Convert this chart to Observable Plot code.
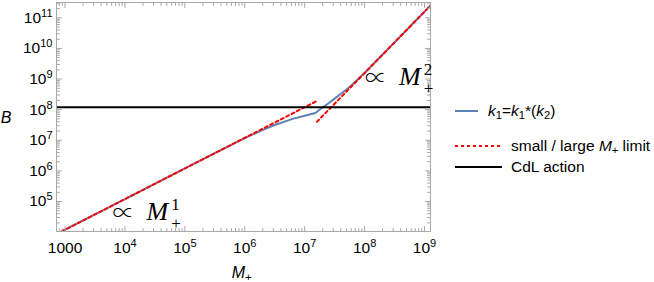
<!DOCTYPE html>
<html><head><meta charset="utf-8">
<script src="https://cdn.jsdelivr.net/npm/d3@7"></script>
<script src="https://cdn.jsdelivr.net/npm/@observablehq/plot@0.6"></script>
<style>
body{margin:0;background:#fff;}
#wrap{position:relative;width:654px;height:282px;overflow:hidden;font-family:"Liberation Sans",Arial,sans-serif;color:#000;background:#fff;}
#wrap svg.plot{position:absolute;left:0;top:0;}
.lab{position:absolute;font-size:15.5px;white-space:nowrap;line-height:1;transform:translateY(-50%);}
.ctr{transform:translate(-50%,-50%);}
.lab sub{font-size:0.72em;position:relative;top:0.3em;vertical-align:baseline;line-height:0;}
.sw{position:absolute;overflow:visible;}
</style></head><body><div id="wrap"></div>
<script>
// ---- data ----
const massM = [720, 3162, 1e4, 1e5, 3.16e5, 1e6, 2.0e6, 3.16e6, 6.3e6, 1e7, 1.51e7, 1.95e7, 2.51e7, 3.16e7, 3.98e7, 5.0e7, 6.3e7, 1e8, 1.26e9];
const actionB = [8710, 3.8e4, 1.2e5, 1.2e6, 3.8e6, 1.175e7, 2.19e7, 3.16e7, 5.0e7, 6.3e7, 7.8e7, 1.15e8, 1.62e8, 2.29e8, 3.24e8, 4.57e8, 6.76e8, 1.58e9, 2.51e11];
const smallLimitM = [720, 1.6e7];
const smallLimitB = [8640, 1.92e8];
const largeLimitM = [1.6e7, 1.26e9];
const largeLimitB = [4.0e7, 2.5e11];
const cdlActionB = [1.2e8];
const xDomain = [720, 1.26e9];
const yDomain = [1.05e4, 3.16e11];
const xTickValues = [1e3, 1e4, 1e5, 1e6, 1e7, 1e8, 1e9];
const yTickValues = [1e5, 1e6, 1e7, 1e8, 1e9, 1e10, 1e11];
const annotM = [6.2e3, 1.02e8];
const annotB = [4.8e4, 1.23e9];
const annotSup = ["1", "2"];

// ---- build tables ----
const curve = massM.map((m, i) => ({M: m, B: actionB[i]}));
const small = smallLimitM.map((m, i) => ({M: m, B: smallLimitB[i]}));
const large = largeLimitM.map((m, i) => ({M: m, B: largeLimitB[i]}));
const annots = annotM.map((m, i) => ({M: m, B: annotB[i], t: "∝ M"}));

function minors(lo, hi) {
  const out = [];
  for (let d = Math.floor(Math.log10(lo)); d <= Math.ceil(Math.log10(hi)); d++)
    for (let k = 2; k <= 9; k++) { const v = k * 10 ** d; if (v >= lo && v <= hi) out.push(v); }
  return out;
}
const xMinor = minors(xDomain[0], xDomain[1]);
const yMinor = minors(yDomain[0], yDomain[1]);

const tickShape = {draw(ctx, l) { ctx.moveTo(0, 0); ctx.lineTo(0, -l); }};
const gray = "#a8a8a8";
const fmt = d => d === 1000 ? "1000" : "10^" + Math.round(Math.log10(d));

function ticks(kind, vals, len) {
  const common = {length: len, anchor: "start", shape: tickShape, stroke: gray, strokeWidth: 1};
  if (kind === "x") return [
    Plot.vectorX(vals, {x: d => d, frameAnchor: "bottom", rotate: 0, ...common}),
    Plot.vectorX(vals, {x: d => d, frameAnchor: "top", rotate: 180, ...common})
  ];
  return [
    Plot.vectorY(vals, {y: d => d, frameAnchor: "left", rotate: 90, ...common}),
    Plot.vectorY(vals, {y: d => d, frameAnchor: "right", rotate: -90, ...common})
  ];
}

const chart = Plot.plot({
  width: 654, height: 282,
  marginLeft: 56, marginRight: 224, marginTop: 2, marginBottom: 51,
  style: {fontFamily: '"Liberation Sans", Arial, sans-serif', fontSize: "15.5px", color: "#000", background: "transparent", overflow: "visible"},
  x: {type: "log", domain: xDomain},
  y: {type: "log", domain: yDomain},
  marks: [
    Plot.line(curve, {x: "M", y: "B", stroke: "#5E81B5", strokeWidth: 2, clip: true}),
    Plot.line(small, {x: "M", y: "B", stroke: "#ff0000", strokeWidth: 2, strokeDasharray: "3,3", clip: true}),
    Plot.line(large, {x: "M", y: "B", stroke: "#ff0000", strokeWidth: 2, strokeDasharray: "3,3", clip: true}),
    Plot.ruleY(cdlActionB, {stroke: "#000", strokeWidth: 2}),
    Plot.frame({stroke: gray, strokeWidth: 1}),
    ...ticks("x", xTickValues, 5), ...ticks("x", xMinor, 3),
    ...ticks("y", yTickValues, 5), ...ticks("y", yMinor, 3),
    Plot.axisX(xTickValues, {tickSize: 0, tickPadding: 10, tickFormat: fmt, label: null, fontSize: 15.5}),
    Plot.axisY(yTickValues, {tickSize: 0, tickPadding: 4, tickFormat: fmt, label: null, fontSize: 15.5}),
    Plot.text(annots, {x: "M", y: "B", text: "t", textAnchor: "start", lineAnchor: "middle", fontFamily: '"Liberation Serif", "Times New Roman", serif', fontSize: 26, fill: "#000"})
  ]
});
chart.classList.add("plot");

const NS = "http://www.w3.org/2000/svg";
function tspan(txt, attrs) {
  const t = document.createElementNS(NS, "tspan");
  t.textContent = txt;
  for (const k in attrs) t.setAttribute(k, attrs[k]);
  return t;
}
// superscripts on tick labels
chart.querySelectorAll("text").forEach(el => {
  const m = /^10\^(\d+)$/.exec(el.textContent);
  if (m) {
    el.textContent = "10";
    el.appendChild(tspan(m[1], {"font-size": "11px", dy: "-6"}));
  }
});
// annotations: ∝ M with stacked super/subscript
let ai = 0;
chart.querySelectorAll("text").forEach(el => {
  if (el.textContent === "∝ M") {
    const i = ai++;
    el.textContent = "";
    el.appendChild(tspan("∝", {"font-family": '"Noto Sans CJK JP", "Noto Sans CJK SC", "DejaVu Serif", serif', "font-size": "22px", "font-weight": "300"}));
    el.appendChild(tspan("M", {"font-style": "italic", dx: "12"}));
    el.appendChild(tspan(annotSup[i], {"font-size": "17px", dy: "-10", dx: "3"}));
    el.appendChild(tspan("+", {"font-size": "17px", dy: "19", dx: "-8.5"}));
  }
});

const wrap = document.getElementById("wrap");
wrap.appendChild(chart);

function addLabel(html, left, top, cls, extra) {
  const d = document.createElement("div");
  d.className = "lab " + (cls || "");
  d.innerHTML = html;
  d.style.left = left + "px"; d.style.top = top + "px";
  if (extra) Object.assign(d.style, extra);
  wrap.appendChild(d);
}
function swatch(x1, x2, y, color, dash) {
  const s = document.createElementNS(NS, "svg");
  s.setAttribute("class", "sw");
  s.setAttribute("width", 654); s.setAttribute("height", 282);
  s.style.left = "0px"; s.style.top = "0px";
  const l = document.createElementNS(NS, "line");
  l.setAttribute("x1", x1); l.setAttribute("x2", x2); l.setAttribute("y1", y); l.setAttribute("y2", y);
  l.setAttribute("stroke", color); l.setAttribute("stroke-width", 2);
  if (dash) l.setAttribute("stroke-dasharray", dash);
  s.appendChild(l);
  wrap.appendChild(s);
}
// axis labels
addLabel("<i>B</i>", 6, 117.5, "ctr", {fontSize: "16px"});
addLabel("<i>M</i><sub>+</sub>", 241.7, 273, "ctr", {fontSize: "16px"});
// legend
swatch(455, 478, 111, "#5E81B5");
addLabel("<i>k</i><sub>1</sub>=<i>k</i><sub>1</sub>*(<i>k</i><sub>2</sub>)", 488, 111);
swatch(455, 500, 146, "#ff0000", "3,3");
addLabel("small / large <i>M</i><sub>+</sub> limit", 511, 146);
swatch(455, 502, 167, "#000");
addLabel("CdL action", 511, 167);
</script>
</body></html>
